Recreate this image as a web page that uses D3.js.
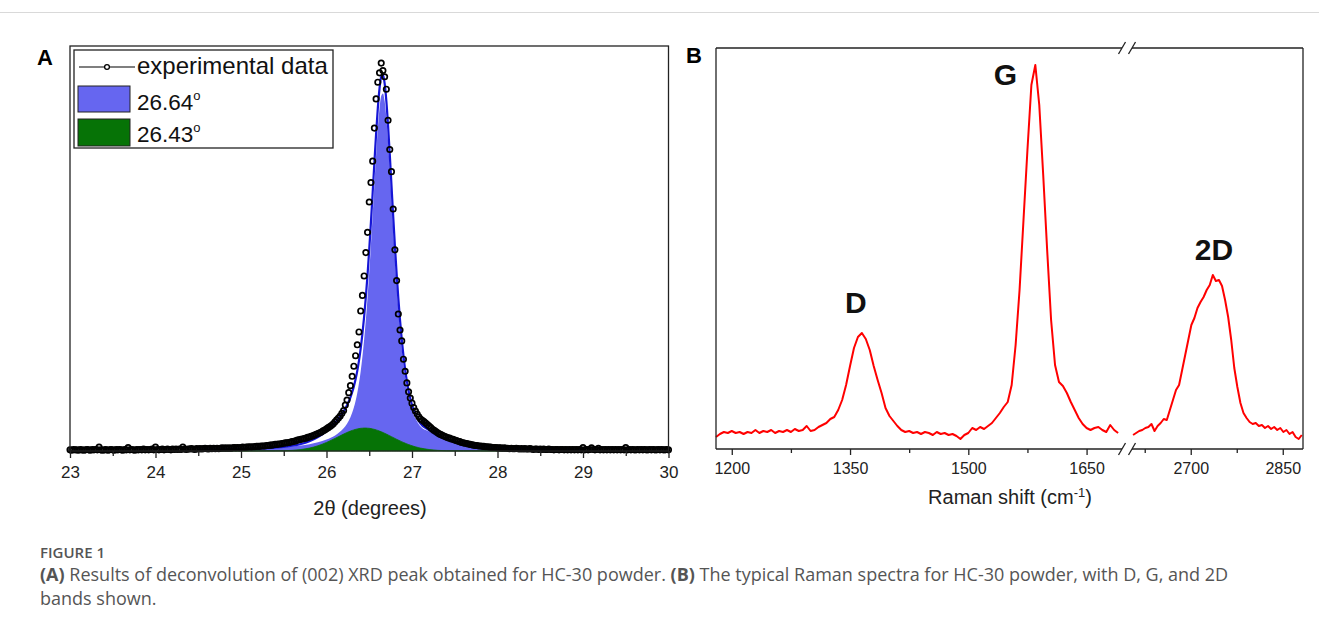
<!DOCTYPE html>
<html><head><meta charset="utf-8">
<script src="https://cdn.jsdelivr.net/npm/d3@7"></script>
<style>
body{margin:0;background:#fff}
svg text{font-family:"Liberation Sans",Arial,sans-serif}
</style></head>
<body><svg id="c" width="1319" height="635"></svg>
<script>
// ---------------- DATA ----------------
// Panel A: XRD (002) peak, 2theta from 23.00 to 30.00 every 0.02 degree
const xrdThetaStart = 23.00, xrdThetaStep = 0.02;
const xrdIntensity = [
 // 23.00 - 25.40
 0.003,0.002,0.004,0.003,0.003,0.002,0.004,0.003,0.002,0.003,
 0.004,0.003,0.002,0.004,0.003,0.004,0.003,0.010,0.003,0.002,
 0.003,0.004,0.002,0.003,0.004,0.003,0.002,0.004,0.003,0.004,
 0.003,0.002,0.004,0.003,0.009,0.003,0.004,0.003,0.002,0.004,
 0.003,0.004,0.003,0.005,0.003,0.004,0.003,0.004,0.005,0.003,
 0.010,0.004,0.003,0.004,0.005,0.003,0.004,0.005,0.004,0.003,
 0.005,0.004,0.005,0.004,0.005,0.004,0.010,0.005,0.004,0.005,
 0.005,0.006,0.005,0.004,0.006,0.005,0.006,0.005,0.006,0.007,
 0.006,0.005,0.007,0.006,0.007,0.006,0.007,0.006,0.007,0.008,
 0.007,0.008,0.007,0.008,0.007,0.008,0.009,0.008,0.009,0.008,
 0.009,0.010,0.009,0.010,0.010,0.011,0.010,0.011,0.011,0.012,
 0.012,0.012,0.013,0.013,0.013,0.014,0.014,0.015,0.015,0.016,
 0.017,
 // 25.42 - 26.20
 0.017,0.018,0.018,0.019,0.020,0.021,0.021,0.022,0.023,0.024,
 0.025,0.026,0.028,0.029,0.030,0.031,0.032,0.033,0.035,0.036,
 0.038,0.039,0.041,0.043,0.045,0.047,0.049,0.052,0.054,0.057,
 0.060,0.063,0.066,0.070,0.075,0.080,0.085,0.090,0.097,0.104,
 // 26.22 - 27.10
 0.118,0.131,0.150,0.168,0.192,0.218,0.245,0.273,0.306,0.360,
 0.400,0.450,0.510,0.562,0.640,0.690,0.745,0.830,0.905,0.948,
 0.972,0.997,0.978,0.962,0.930,0.850,0.775,0.718,0.622,0.517,
 0.438,0.352,0.311,0.283,0.236,0.205,0.175,0.152,0.136,0.123,
 0.112,0.103,0.095,0.088,0.082,
 // 27.12 - 27.90
 0.079,0.076,0.072,0.068,0.064,0.060,0.056,0.053,0.050,0.047,
 0.044,0.042,0.040,0.038,0.036,0.034,0.033,0.031,0.030,0.028,
 0.027,0.025,0.024,0.022,0.021,0.020,0.019,0.018,0.017,0.016,
 0.015,0.014,0.014,0.013,0.013,0.012,0.012,0.011,0.011,0.010,
 // 27.92 - 30.00
 0.010,0.009,0.009,0.009,0.008,0.008,0.008,0.007,0.008,0.007,
 0.007,0.006,0.007,0.006,0.006,0.007,0.006,0.005,0.006,0.005,
 0.006,0.005,0.005,0.006,0.005,0.004,0.005,0.005,0.004,0.005,
 0.004,0.005,0.004,0.004,0.005,0.004,0.004,0.003,0.004,0.004,
 0.003,0.004,0.004,0.003,0.004,0.003,0.004,0.003,0.004,0.003,
 0.004,0.003,0.004,0.003,0.009,0.003,0.004,0.003,0.004,0.008,
 0.004,0.003,0.004,0.007,0.003,0.004,0.003,0.004,0.003,0.004,
 0.003,0.004,0.003,0.004,0.003,0.004,0.003,0.004,0.003,0.009,
 0.003,0.004,0.003,0.004,0.003,0.003,0.004,0.003,0.004,0.003,
 0.004,0.003,0.003,0.004,0.003,0.004,0.003,0.003,0.004,0.003,
 0.004,0.003,0.003,0.004,0.003
];
// fitted components, 2theta grid (x100): [start, end, step]
const fitThetaSegments = [[2450,2620,10],[2622,2710,2],[2720,2900,10]];
const fitPeak2664 = [
 0.0028,0.0031,0.0035,0.0038,0.0043,0.0048,0.0054,0.0062,0.0071,0.0083,0.0098,0.0117,0.0142,0.0176,0.0223,0.0293,0.0400,0.0583,
 0.0638,0.0702,0.0778,0.0869,0.0981,0.1118,0.1286,0.1493,0.1746,0.2053,0.2422,0.2858,0.3366,0.3947,0.4600,
 0.5314,0.6073,0.6849,0.7602,0.8276,0.8804,0.9125,0.9191,0.8994,0.8562,
 0.7952,0.7232,0.6462,0.5689,0.4951,0.4266,0.3648,0.3103,0.2631,0.2230,
 0.1892,0.1613,0.1385,0.1198,0.1046,0.0922,0.0840,0.0760,0.0690,0.0630,
 0.0500,0.0380,0.0300,0.0240,0.0190,0.0160,0.0130,0.0110,0.0095,0.0082,0.0072,0.0063,0.0056,0.0050,0.0045,0.0041,0.0037,0.0034,0.0031
];
const fitPeak2643 = [
 0.0005,0.0005,0.0005,0.0005,0.0005,0.0005,0.0005,0.0005,0.0005,0.0005,0.0007,0.0017,0.0038,0.0075,0.0135,0.0220,0.0324,0.0435,
 0.0456,0.0476,0.0495,0.0512,0.0529,0.0543,0.0556,0.0567,0.0576,0.0583,0.0587,0.0590,0.0590,0.0587,0.0583,
 0.0576,0.0567,0.0556,0.0543,0.0529,0.0512,0.0495,0.0476,0.0456,0.0435,
 0.0413,0.0391,0.0369,0.0347,0.0324,0.0302,0.0281,0.0260,0.0239,0.0220,
 0.0201,0.0183,0.0166,0.0150,0.0135,0.0121,0.0108,0.0096,0.0085,0.0075,
 0.0038,0.0017,0.0007,0.0005,0.0005,0.0005,0.0005,0.0005,0.0005,0.0005,0.0005,0.0005,0.0005,0.0005,0.0005,0.0005,0.0005,0.0005,0.0005
];
const xrdTicks = [23,24,25,26,27,28,29,30];
const xrdMinorTicks = [23.5,24.5,25.5,26.5,27.5,28.5,29.5];
const legendA = ["experimental data","26.64","26.43"];

// Panel B: Raman spectrum, two segments: [start, end, step] in cm-1
const ramanGrid1 = [1180,1690,5];
const ramanIntensity1 = [
 120,150,170,160,180,160,170,150,170,160,190,160,180,170,190,160,180,170,190,170,
 200,180,190,230,180,190,220,240,260,300,320,390,490,640,830,1010,1120,1160,1100,990,
 830,690,560,410,330,280,230,190,170,180,160,170,150,170,160,140,170,150,160,140,
 150,130,100,140,160,210,190,220,200,230,260,310,360,420,470,640,1040,1590,2290,2990,
 3640,3840,3440,2740,1990,1290,840,670,630,560,470,390,310,250,210,190,210,220,190,170,
 240,190,160
];
const ramanGrid2 = [2606,2881,5];
const ramanIntensity2 = [
 140,160,180,190,210,220,250,180,230,260,300,290,390,490,590,640,790,940,1090,1240,
 1310,1410,1470,1520,1590,1640,1740,1680,1690,1630,1490,1320,1090,810,620,460,360,310,270,250,
 260,230,240,210,230,200,220,190,210,170,190,150,170,120,100,140
];
const ramanTicks1 = [1200,1350,1500,1650], ramanMinor1 = [1275,1425,1575];
const ramanTicks2 = [2700,2850], ramanMinor2 = [2625,2775];
const bandLabels = [{t:"D",x:1365,v:1160},{t:"G",x:1585,v:3840},{t:"2D",x:2738,v:1740}];

// ---------------- BUILD ----------------
const expData = xrdIntensity.map((v,i)=>[xrdThetaStart + i*xrdThetaStep, v]);
const fitTheta = fitThetaSegments.flatMap(([a,b,s]) => d3.range(a,b+1,s).map(v=>v/100));
if (expData.length!==351) console.error("xrd len",expData.length);
if (fitTheta.length!==fitPeak2664.length||fitTheta.length!==fitPeak2643.length) console.error("fit len",fitTheta.length,fitPeak2664.length,fitPeak2643.length);
const p1 = fitTheta.map((t,i)=>[t,fitPeak2664[i]]);
const p2 = fitTheta.map((t,i)=>[t,fitPeak2643[i]]);
const cum = fitTheta.map((t,i)=>[t,fitPeak2664[i]+fitPeak2643[i]]);

const svg = d3.select("#c");
svg.append("line").attr("x1",0).attr("x2",1319).attr("y1",12.5).attr("y2",12.5).attr("stroke","#d9d9d9");

// ---- Panel A ----
const xA = d3.scaleLinear().domain([23,30]).range([70,668.5]);
const yA = d3.scaleLinear().domain([0,1.041]).range([451,46]);
const gA = svg.append("g");
const area = d3.area().x(d=>xA(d[0])).y0(yA(0)).y1(d=>yA(d[1])).curve(d3.curveMonotoneX);
gA.append("path").datum(p1).attr("d",area).attr("fill","#6666f0");
gA.append("path").datum(p2).attr("d",area).attr("fill","#067306").attr("stroke","#067306").attr("stroke-width",0.8);
gA.append("path").datum(cum).attr("d",d3.line().x(d=>xA(d[0])).y(d=>yA(d[1])).curve(d3.curveMonotoneX))
  .attr("fill","none").attr("stroke","#1515d6").attr("stroke-width",2.2);
gA.selectAll("circle.e").data(expData).join("circle").attr("class","e")
  .attr("cx",d=>xA(d[0])).attr("cy",d=>yA(d[1])).attr("r",2.7)
  .attr("fill","none").attr("stroke","#000").attr("stroke-width",1.7);
// frame
gA.append("rect").attr("x",70).attr("y",46).attr("width",598.5).attr("height",405)
  .attr("fill","none").attr("stroke","#222").attr("stroke-width",1.3);
const axA = gA.append("g").attr("transform","translate(0,451)")
  .call(d3.axisBottom(xA).tickValues(xrdTicks).tickSize(7).tickSizeOuter(0).tickFormat(d3.format("d")));
axA.select(".domain").remove();
axA.selectAll("line").attr("stroke","#222").attr("stroke-width",1.3);
axA.selectAll("text").attr("font-size",17).attr("fill","#222").attr("dy","1.0em");
const axAm = gA.append("g").attr("transform","translate(0,451)")
  .call(d3.axisBottom(xA).tickValues(xrdMinorTicks).tickSize(5).tickFormat(""));
axAm.select(".domain").remove();
axAm.selectAll("line").attr("stroke","#222").attr("stroke-width",1.3);
gA.append("text").attr("x",370).attr("y",515).attr("text-anchor","middle").attr("font-size",20).attr("fill","#222").text("2\u03B8 (degrees)");
svg.append("text").attr("x",37).attr("y",65).attr("font-size",22).attr("font-weight","bold").text("A");
// legend
const lg = gA.append("g");
lg.append("rect").attr("x",74).attr("y",50).attr("width",259).attr("height",98).attr("fill","#fff").attr("stroke","#222").attr("stroke-width",1.3);
lg.append("line").attr("x1",79).attr("x2",135).attr("y1",67).attr("y2",67).attr("stroke","#000").attr("stroke-width",1.2);
lg.append("circle").attr("cx",107).attr("cy",67).attr("r",2.4).attr("fill","#fff").attr("stroke","#000").attr("stroke-width",1.3);
lg.append("rect").attr("x",78).attr("y",86).attr("width",52).attr("height",26).attr("fill","#6666f0").attr("stroke","#222");
lg.append("rect").attr("x",78).attr("y",119).attr("width",52).attr("height",27).attr("fill","#067306").attr("stroke","#222");
lg.append("text").attr("x",137).attr("y",74).attr("font-size",24).attr("fill","#111").text(legendA[0]);
[[110,1],[142,2]].forEach(([y,i])=>{
  const t = lg.append("text").attr("x",137).attr("y",y).attr("font-size",22.5).attr("fill","#111");
  t.append("tspan").text(legendA[i]);
  t.append("tspan").attr("dy",-10).attr("font-size",13).text("o");
});

// ---- Panel B ----
const x1 = d3.scaleLinear().domain([1180,1700]).range([716,1126]);
const x2 = d3.scaleLinear().domain([2601,2883]).range([1130,1303]);
const yB = d3.scaleLinear().domain([0,4010]).range([449,48]);
const gB = svg.append("g");
const r1 = d3.range(ramanGrid1[0],ramanGrid1[1]+1,ramanGrid1[2]).map((w,i)=>[w,ramanIntensity1[i]]);
const r2 = d3.range(ramanGrid2[0],ramanGrid2[1]+1,ramanGrid2[2]).map((w,i)=>[w,ramanIntensity2[i]]);
if (r1.length!==ramanIntensity1.length||r2.length!==ramanIntensity2.length) console.error("raman len");
[[r1,x1],[r2,x2]].forEach(([r,sx])=>gB.append("path").datum(r).attr("d",d3.line().x(d=>sx(d[0])).y(d=>yB(d[1])))
  .attr("fill","none").attr("stroke","#f00").attr("stroke-width",2).attr("stroke-linejoin","round"));
// frame with break
const fr = gB.append("g").attr("stroke","#222").attr("stroke-width",1.3).attr("fill","none");
const bx1 = 1122, bx2 = 1132;
[48,449].forEach(y=>{
  fr.append("line").attr("x1",716).attr("x2",bx1).attr("y1",y).attr("y2",y);
  fr.append("line").attr("x1",bx2).attr("x2",1303).attr("y1",y).attr("y2",y);
  [bx1,bx2].forEach(bx=>fr.append("line").attr("x1",bx-3.5).attr("x2",bx+3.5).attr("y1",y+6).attr("y2",y-6));
});
fr.append("line").attr("x1",716).attr("x2",716).attr("y1",48).attr("y2",449);
fr.append("line").attr("x1",1303).attr("x2",1303).attr("y1",48).attr("y2",449);
function axisB(scale, major, minor){
  const a = gB.append("g").attr("transform","translate(0,449)")
    .call(d3.axisBottom(scale).tickValues(major).tickSize(6).tickFormat(d3.format("d")));
  a.select(".domain").remove();
  a.selectAll("line").attr("stroke","#222").attr("stroke-width",1.3);
  a.selectAll("text").attr("font-size",16).attr("fill","#222").attr("dy","1.0em");
  const m = gB.append("g").attr("transform","translate(0,449)")
    .call(d3.axisBottom(scale).tickValues(minor).tickSize(4).tickFormat(""));
  m.select(".domain").remove();
  m.selectAll("line").attr("stroke","#222").attr("stroke-width",1.3);
}
axisB(x1, ramanTicks1, ramanMinor1);
axisB(x2, ramanTicks2, ramanMinor2);
const tB = gB.append("text").attr("x",1010).attr("y",504).attr("text-anchor","middle").attr("font-size",20).attr("fill","#222");
tB.append("tspan").text("Raman shift (cm");
tB.append("tspan").attr("dy",-7).attr("font-size",13).text("-1");
tB.append("tspan").attr("dy",7).text(")");
svg.append("text").attr("x",686).attr("y",63).attr("font-size",22).attr("font-weight","bold").text("B");
const labelOffset = {D:[-6,-20], G:[-30,20], "2D":[0,-15]};
bandLabels.forEach(b=>{
  const sx = b.x<2000 ? x1(b.x) : x2(b.x);
  const [dx,dy] = labelOffset[b.t];
  gB.append("text").attr("x",sx+dx).attr("y",yB(b.v)+dy).attr("text-anchor","middle")
    .attr("font-size",30).attr("font-weight","bold").attr("fill","#111").text(b.t);
});

// ---- Caption ----
const capStyle = "font-family:'Open Sans','Noto Sans',sans-serif";
svg.append("text").attr("x",40).attr("y",558).attr("font-size",15).attr("font-weight",600).attr("fill","#555").attr("style",capStyle).text("FIGURE 1");
const c1 = svg.append("text").attr("x",40).attr("y",581).attr("font-size",18).attr("fill","#555").attr("style",capStyle);
c1.append("tspan").attr("font-weight","bold").text("(A)");
c1.append("tspan").text(" Results of deconvolution of (002) XRD peak obtained for HC-30 powder. ");
c1.append("tspan").attr("font-weight","bold").text("(B)");
c1.append("tspan").text(" The typical Raman spectra for HC-30 powder, with D, G, and 2D");
svg.append("text").attr("x",40).attr("y",605).attr("font-size",18).attr("fill","#555").attr("style",capStyle).text("bands shown.");
</script></body></html>
